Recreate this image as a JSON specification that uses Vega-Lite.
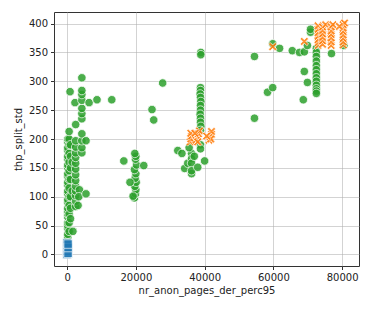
{
  "$schema": "https://vega.github.io/schema/vega-lite/v6.json",
  "width": 305,
  "height": 254,
  "autosize": {"type": "none"},
  "padding": {"left": 54, "top": 12, "right": 12, "bottom": 43},
  "background": "white",
  "config": {
    "view": {"stroke": "#333333", "strokeWidth": 1},
    "axis": {
      "labelFont": "DejaVu Sans", "titleFont": "DejaVu Sans",
      "labelFontSize": 10, "titleFontSize": 10, "labelColor": "#222", "titleColor": "#222",
      "titleFontWeight": "normal", "domain": false, "tickColor": "#333", "tickSize": 3.5,
      "gridColor": "#b0b0b0", "gridOpacity": 0.7, "gridWidth": 0.8
    }
  },
  "data": {"values": [
    {"x":0,"y":0,"s":"a"},{"x":0,"y":5,"s":"a"},{"x":0,"y":10,"s":"a"},{"x":0,"y":15,"s":"a"},{"x":0,"y":20,"s":"a"},{"x":300,"y":2,"s":"a"},{"x":300,"y":12,"s":"a"},{"x":300,"y":18,"s":"a"},
    {"x":200,"y":25,"s":"c"},{"x":200,"y":30,"s":"c"},{"x":200,"y":35,"s":"c"},{"x":200,"y":45,"s":"c"},{"x":200,"y":50,"s":"c"},{"x":200,"y":55,"s":"c"},{"x":200,"y":65,"s":"c"},{"x":200,"y":70,"s":"c"},{"x":200,"y":75,"s":"c"},{"x":200,"y":80,"s":"c"},{"x":200,"y":90,"s":"c"},{"x":200,"y":95,"s":"c"},{"x":200,"y":105,"s":"c"},{"x":200,"y":110,"s":"c"},{"x":200,"y":120,"s":"c"},{"x":200,"y":125,"s":"c"},{"x":200,"y":135,"s":"c"},{"x":200,"y":140,"s":"c"},{"x":200,"y":150,"s":"c"},{"x":200,"y":155,"s":"c"},{"x":200,"y":165,"s":"c"},{"x":200,"y":170,"s":"c"},{"x":200,"y":180,"s":"c"},{"x":200,"y":185,"s":"c"},{"x":200,"y":195,"s":"c"},{"x":200,"y":200,"s":"c"},
    {"x":600,"y":40,"s":"c"},{"x":600,"y":55,"s":"c"},{"x":600,"y":70,"s":"c"},{"x":600,"y":85,"s":"c"},{"x":600,"y":100,"s":"c"},{"x":600,"y":115,"s":"c"},{"x":600,"y":130,"s":"c"},{"x":600,"y":145,"s":"c"},{"x":600,"y":160,"s":"c"},{"x":600,"y":175,"s":"c"},{"x":600,"y":190,"s":"c"},{"x":600,"y":200,"s":"c"},{"x":600,"y":213,"s":"c"},
    {"x":1000,"y":62,"s":"c"},{"x":1000,"y":80,"s":"c"},{"x":1000,"y":100,"s":"c"},{"x":1000,"y":130,"s":"c"},{"x":1000,"y":150,"s":"c"},{"x":1000,"y":170,"s":"c"},{"x":1000,"y":190,"s":"c"},
    {"x":870,"y":282,"s":"c"},{"x":1700,"y":40,"s":"c"},{"x":1500,"y":110,"s":"c"},{"x":1500,"y":160,"s":"c"},
    {"x":2500,"y":83,"s":"c"},{"x":2500,"y":92,"s":"c"},{"x":2500,"y":102,"s":"c"},{"x":2500,"y":110,"s":"c"},{"x":2500,"y":118,"s":"c"},{"x":2500,"y":128,"s":"c"},{"x":2500,"y":138,"s":"c"},{"x":2500,"y":148,"s":"c"},{"x":2500,"y":158,"s":"c"},{"x":2500,"y":168,"s":"c"},{"x":2500,"y":176,"s":"c"},{"x":2500,"y":186,"s":"c"},{"x":2500,"y":197,"s":"c"},{"x":2500,"y":225,"s":"c"},{"x":2300,"y":263,"s":"c"},
    {"x":3600,"y":112,"s":"c"},{"x":3400,"y":100,"s":"c"},{"x":3200,"y":85,"s":"c"},
    {"x":4300,"y":176,"s":"c"},{"x":4300,"y":185,"s":"c"},{"x":4300,"y":197,"s":"c"},{"x":4300,"y":209,"s":"c"},{"x":4300,"y":235,"s":"c"},{"x":4300,"y":244,"s":"c"},{"x":4300,"y":253,"s":"c"},{"x":4300,"y":267,"s":"c"},{"x":4300,"y":277,"s":"c"},{"x":4300,"y":284,"s":"c"},{"x":4300,"y":306,"s":"c"},
    {"x":5500,"y":105,"s":"c"},{"x":5500,"y":197,"s":"c"},{"x":6400,"y":263,"s":"c"},{"x":8700,"y":268,"s":"c"},{"x":13000,"y":268,"s":"c"},
    {"x":24700,"y":251,"s":"c"},{"x":25200,"y":233,"s":"c"},{"x":27800,"y":297,"s":"c"},
    {"x":19300,"y":100,"s":"c"},{"x":19600,"y":98,"s":"c"},{"x":19900,"y":105,"s":"c"},{"x":20000,"y":112,"s":"c"},{"x":19700,"y":118,"s":"c"},{"x":20100,"y":125,"s":"c"},{"x":19800,"y":132,"s":"c"},{"x":20000,"y":140,"s":"c"},{"x":19600,"y":147,"s":"c"},{"x":20200,"y":155,"s":"c"},{"x":19900,"y":165,"s":"c"},{"x":20000,"y":170,"s":"c"},{"x":19700,"y":175,"s":"c"},{"x":18300,"y":125,"s":"c"},{"x":16500,"y":162,"s":"c"},{"x":22300,"y":154,"s":"c"},{"x":19200,"y":101,"s":"c"},
    {"x":38800,"y":289,"s":"c"},{"x":38800,"y":284,"s":"c"},{"x":38700,"y":278,"s":"c"},{"x":38800,"y":272,"s":"c"},{"x":38900,"y":265,"s":"c"},{"x":38800,"y":258,"s":"c"},{"x":38800,"y":250,"s":"c"},{"x":38700,"y":243,"s":"c"},{"x":38800,"y":236,"s":"c"},{"x":38800,"y":229,"s":"c"},{"x":38900,"y":222,"s":"c"},{"x":38800,"y":215,"s":"c"},{"x":38800,"y":190,"s":"c"},{"x":38800,"y":183,"s":"c"},{"x":38900,"y":350,"s":"c"},{"x":38900,"y":346,"s":"c"},
    {"x":32200,"y":180,"s":"c"},{"x":33400,"y":175,"s":"c"},{"x":34200,"y":149,"s":"c"},{"x":35100,"y":158,"s":"c"},{"x":36200,"y":175,"s":"c"},{"x":36200,"y":166,"s":"c"},{"x":36200,"y":158,"s":"c"},{"x":36200,"y":140,"s":"c"},{"x":36200,"y":145,"s":"c"},{"x":38000,"y":151,"s":"c"},{"x":40000,"y":162,"s":"c"},{"x":35500,"y":185,"s":"c"},{"x":37000,"y":170,"s":"c"},
    {"x":54500,"y":343,"s":"c"},{"x":54500,"y":236,"s":"c"},{"x":58300,"y":281,"s":"c"},{"x":59800,"y":289,"s":"c"},{"x":59800,"y":365,"s":"c"},{"x":61800,"y":357,"s":"c"},{"x":65500,"y":353,"s":"c"},{"x":67600,"y":350,"s":"c"},{"x":69000,"y":351,"s":"c"},{"x":69000,"y":317,"s":"c"},{"x":69900,"y":298,"s":"c"},{"x":68700,"y":268,"s":"c"},{"x":69900,"y":362,"s":"c"},{"x":70800,"y":385,"s":"c"},{"x":70800,"y":390,"s":"c"},
    {"x":72500,"y":357,"s":"c"},{"x":72500,"y":350,"s":"c"},{"x":72500,"y":343,"s":"c"},{"x":72500,"y":335,"s":"c"},{"x":72500,"y":327,"s":"c"},{"x":72500,"y":320,"s":"c"},{"x":72500,"y":313,"s":"c"},{"x":72500,"y":306,"s":"c"},{"x":72500,"y":300,"s":"c"},{"x":72500,"y":293,"s":"c"},{"x":72500,"y":287,"s":"c"},{"x":72500,"y":283,"s":"c"},{"x":72500,"y":279,"s":"c"},{"x":76900,"y":348,"s":"c"},{"x":80500,"y":362,"s":"c"},
    {"x":35800,"y":195,"s":"b"},{"x":36000,"y":200,"s":"b"},{"x":36200,"y":205,"s":"b"},{"x":36000,"y":210,"s":"b"},{"x":37500,"y":198,"s":"b"},{"x":38000,"y":204,"s":"b"},{"x":38200,"y":209,"s":"b"},{"x":38500,"y":214,"s":"b"},{"x":38000,"y":195,"s":"b"},{"x":37200,"y":210,"s":"b"},
    {"x":41300,"y":198,"s":"b"},{"x":41600,"y":203,"s":"b"},{"x":42000,"y":208,"s":"b"},{"x":42000,"y":213,"s":"b"},{"x":41800,"y":200,"s":"b"},{"x":40600,"y":205,"s":"b"},
    {"x":59800,"y":360,"s":"b"},{"x":69000,"y":369,"s":"b"},
    {"x":73000,"y":362,"s":"b"},{"x":73000,"y":367,"s":"b"},{"x":73000,"y":372,"s":"b"},{"x":73000,"y":378,"s":"b"},{"x":73000,"y":384,"s":"b"},{"x":73000,"y":390,"s":"b"},{"x":73000,"y":396,"s":"b"},
    {"x":74300,"y":364,"s":"b"},{"x":74300,"y":370,"s":"b"},{"x":74300,"y":376,"s":"b"},{"x":74300,"y":382,"s":"b"},{"x":74300,"y":388,"s":"b"},{"x":74300,"y":394,"s":"b"},{"x":75200,"y":398,"s":"b"},
    {"x":76800,"y":362,"s":"b"},{"x":76800,"y":368,"s":"b"},{"x":76800,"y":375,"s":"b"},{"x":76800,"y":381,"s":"b"},{"x":76800,"y":387,"s":"b"},{"x":76800,"y":394,"s":"b"},{"x":77300,"y":398,"s":"b"},
    {"x":80300,"y":363,"s":"b"},{"x":80300,"y":368,"s":"b"},{"x":80300,"y":374,"s":"b"},{"x":80300,"y":380,"s":"b"},{"x":80300,"y":386,"s":"b"},{"x":80300,"y":392,"s":"b"},{"x":80300,"y":398,"s":"b"},{"x":80700,"y":401,"s":"b"},{"x":79200,"y":395,"s":"b"}
  ]},
  "mark": {"type": "point", "filled": true, "size": 72, "opacity": 0.85, "stroke": "white", "strokeWidth": 0.8},
  "encoding": {
    "x": {"field": "x", "type": "quantitative", "title": "nr_anon_pages_der_perc95",
      "scale": {"domain": [-3800, 84900], "nice": false, "zero": false},
      "axis": {"values": [0, 20000, 40000, 60000, 80000], "format": "d", "labelPadding": 3, "titlePadding": 3}},
    "y": {"field": "y", "type": "quantitative", "title": "thp_split_std",
      "scale": {"domain": [-20, 420], "nice": false, "zero": false},
      "axis": {"values": [0, 50, 100, 150, 200, 250, 300, 350, 400], "labelPadding": 3, "titlePadding": 5}},
    "color": {"field": "s", "type": "nominal", "legend": null,
      "scale": {"domain": ["a", "b", "c"], "range": ["#1f77b4", "#ff7f0e", "#2ca02c"]}},
    "shape": {"field": "s", "type": "nominal", "legend": null,
      "scale": {"domain": ["a", "b", "c"], "range": ["square", "M-0.6,-1L0,-0.4L0.6,-1L1,-0.6L0.4,0L1,0.6L0.6,1L0,0.4L-0.6,1L-1,0.6L-0.4,0L-1,-0.6Z", "circle"]}},
    "order": {"field": "s", "type": "nominal", "sort": "descending"}
  }
}
